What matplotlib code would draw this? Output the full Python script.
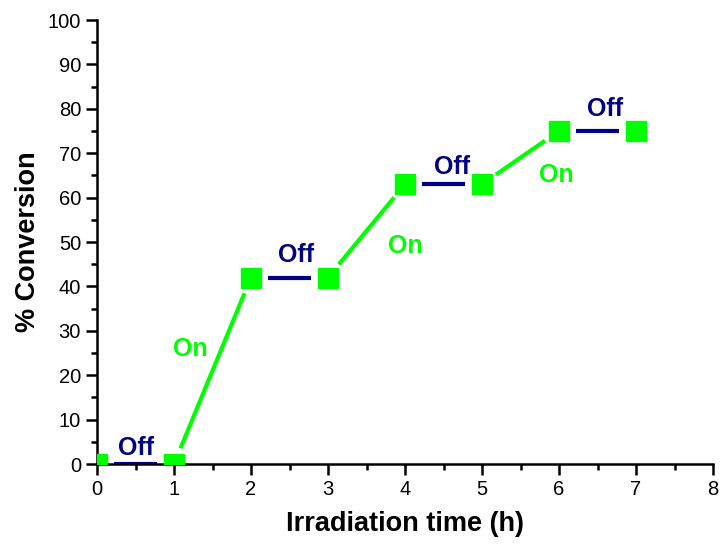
import numpy as np
import matplotlib.pyplot as plt
from matplotlib.ticker import MultipleLocator

plt.rcParams['font.family'] = ['Liberation Sans', 'DejaVu Sans']

time_h = [0, 1, 2, 3, 4, 5, 6, 7]
conversion = [0, 0, 42, 42, 63, 63, 75, 75]
states = ['Off', 'On', 'Off', 'On', 'Off', 'On', 'Off']  # state between consecutive points

label_x = [0.51, 1.21, 2.58, 4.0, 4.61, 5.97, 6.6]
label_y = [3.6, 26, 47, 49, 67, 65, 80]

green = '#00ff00'
navy = '#000080'
state_colors = {'On': green, 'Off': navy}

fig = plt.figure(figsize=(7.22, 5.44), dpi=100)
ax = fig.add_axes([97/722, 80/544, 616/722, 444/544])
ax.set_xlim(0, 8)
ax.set_ylim(0, 100)

# segments shortened near the symbols (gap to symbol)
fig.canvas.draw()
to_px = ax.transData
gap = 17
for i, s in enumerate(states):
    p0 = to_px.transform((time_h[i], conversion[i]))
    p1 = to_px.transform((time_h[i+1], conversion[i+1]))
    d = p1 - p0
    u = d / np.hypot(*d)
    a = to_px.inverted().transform(p0 + u*gap)
    b = to_px.inverted().transform(p1 - u*gap)
    ax.plot([a[0], b[0]], [a[1], b[1]], color=state_colors[s], lw=3, solid_capstyle='butt')

ax.plot(time_h, conversion, 's', ms=14, color=green, mec=green, ls='none', zorder=5)

for s, x, y in zip(states, label_x, label_y):
    ax.text(x, y, s, color=state_colors[s], fontsize=18, fontweight='bold', ha='center', va='center')

for side in ['top', 'right']:
    ax.spines[side].set_visible(False)
for side in ['left', 'bottom']:
    ax.spines[side].set_linewidth(1.8)

ax.xaxis.set_major_locator(MultipleLocator(1))
ax.xaxis.set_minor_locator(MultipleLocator(0.5))
ax.yaxis.set_major_locator(MultipleLocator(10))
ax.yaxis.set_minor_locator(MultipleLocator(5))
ax.tick_params(which='major', direction='out', length=8, width=1.8, labelsize=14.5)
ax.tick_params(which='minor', direction='out', length=4, width=1.8)

ax.set_xlabel('Irradiation time (h)', fontsize=19.5, fontweight='bold', labelpad=9)
ax.set_ylabel('% Conversion', fontsize=19.5, fontweight='bold', labelpad=5)

fig.savefig('out.png', dpi=100)
